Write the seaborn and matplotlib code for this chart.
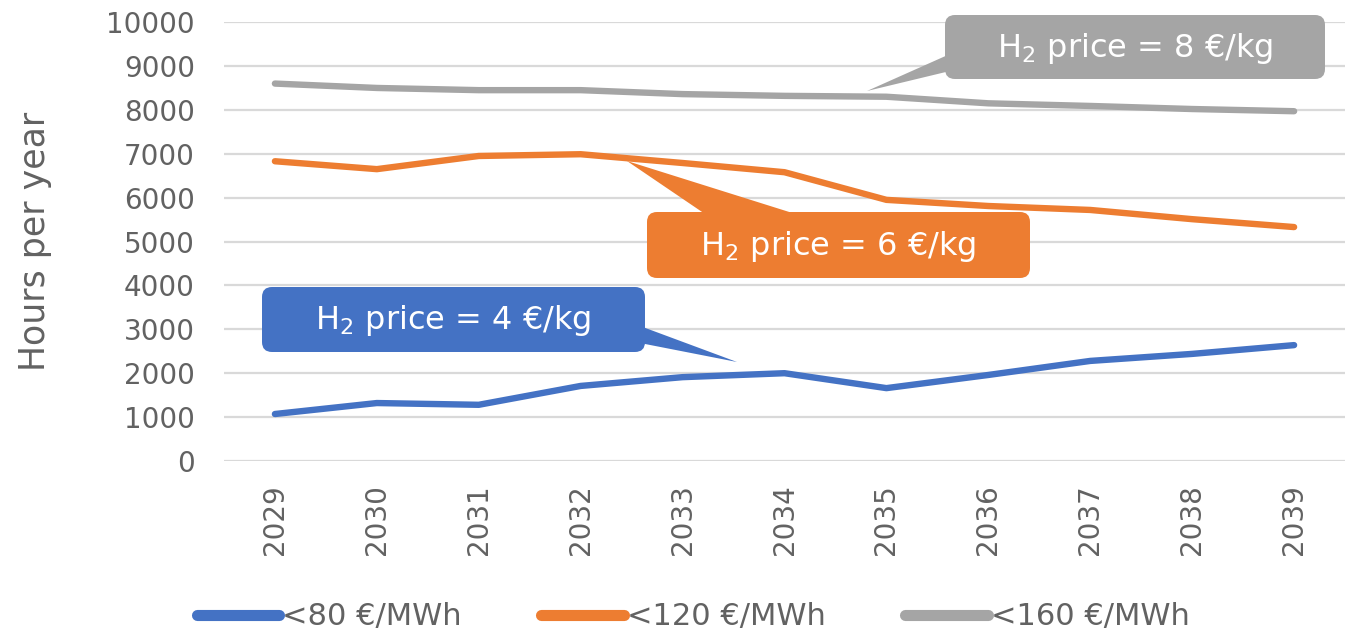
import numpy as np
import pandas as pd
import matplotlib
matplotlib.use("Agg")
import matplotlib.pyplot as plt
import matplotlib.transforms as mtransforms
from matplotlib.patches import FancyBboxPatch, Polygon
from matplotlib.lines import Line2D
import seaborn as sns

years = ["2029", "2030", "2031", "2032", "2033", "2034", "2035", "2036", "2037", "2038", "2039"]
series_names = ["<80 €/MWh", "<120 €/MWh", "<160 €/MWh"]
hours_80 = [1070, 1320, 1280, 1710, 1910, 2000, 1660, 1960, 2280, 2440, 2640]
hours_120 = [6830, 6650, 6950, 6990, 6790, 6580, 5950, 5810, 5720, 5510, 5330]
hours_160 = [8600, 8500, 8450, 8450, 8360, 8320, 8300, 8150, 8090, 8020, 7970]
callout_texts = ["H$_2$ price = 4 €/kg", "H$_2$ price = 6 €/kg", "H$_2$ price = 8 €/kg"]

colors = ["#4472C4", "#ED7D31", "#A5A5A5"]

df = pd.DataFrame({
    "year": years * 3,
    "hours": hours_80 + hours_120 + hours_160,
    "series": [series_names[0]] * len(years) + [series_names[1]] * len(years) + [series_names[2]] * len(years),
})

sns.set_theme(style="white")
plt.rcParams["font.family"] = ["DejaVu Sans"]
text_color = "#626262"

fig = plt.figure(figsize=(13.54, 6.36), dpi=100)
ax = fig.add_axes([0.1654, 0.2752, 0.828, 0.690])

sns.lineplot(data=df, x="year", y="hours", hue="series", hue_order=series_names,
             palette=colors, linewidth=4.6, sort=False, legend=False, ax=ax,
             solid_capstyle="round")

ax.set_ylim(0, 10000)
ax.set_xlim(-0.5, 10.5)
ax.set_yticks(np.arange(0, 10001, 1000))
ax.yaxis.grid(True, color="#D9D9D9", linewidth=1.6)
ax.xaxis.grid(False)
ax.set_axisbelow(True)
for s in ax.spines.values():
    s.set_visible(False)
ax.tick_params(axis="y", length=0, pad=21, labelsize=20, labelcolor=text_color)
ax.tick_params(axis="x", length=0, pad=17, labelsize=20, labelcolor=text_color, labelrotation=90)
ax.set_xlabel("")
ax.set_ylabel("Hours per year", fontsize=25, color=text_color)
ax.yaxis.set_label_coords(-0.153, 0.5)

# legend along the bottom edge
handles = [Line2D([0], [0], color=c, linewidth=8, solid_capstyle="round") for c in colors]
fig.legend(handles, series_names, loc="center", bbox_to_anchor=(0.512, 1 - 617 / 636),
           ncol=3, frameon=False, fontsize=22, handlelength=2.7, handletextpad=0.1,
           columnspacing=2.6, labelcolor=text_color)

# callouts drawn in figure pixel coordinates (origin top-left)
px = mtransforms.Affine2D().scale(1 / 100, -1 / 100).translate(0, 6.36) + fig.dpi_scale_trans


def callout(box, wedge, text, color):
    x0, y0, x1, y1 = box
    r = 10
    patch = FancyBboxPatch((x0 + r, y0 + r), (x1 - x0) - 2 * r, (y1 - y0) - 2 * r,
                           boxstyle=f"round,pad={r}", facecolor=color, edgecolor="none",
                           transform=px, zorder=5, clip_on=False)
    fig.add_artist(patch)
    fig.add_artist(Polygon(wedge, closed=True, facecolor=color, edgecolor="none",
                           transform=px, zorder=5, clip_on=False))
    fig.text((x0 + x1) / 2, (y0 + y1) / 2 + 1, text, transform=px, ha="center", va="center",
             color="white", fontsize=23, zorder=6)


callout((262, 287, 645, 352), [(640, 326), (737, 362), (640, 343)], callout_texts[0], colors[0])
callout((647, 212, 1030, 278), [(708, 216), (627, 161), (802, 216)], callout_texts[1], colors[1])
callout((945, 15, 1325, 79), [(950, 54), (867, 91), (950, 71)], callout_texts[2], colors[2])

fig.savefig("out.png", dpi=100)
